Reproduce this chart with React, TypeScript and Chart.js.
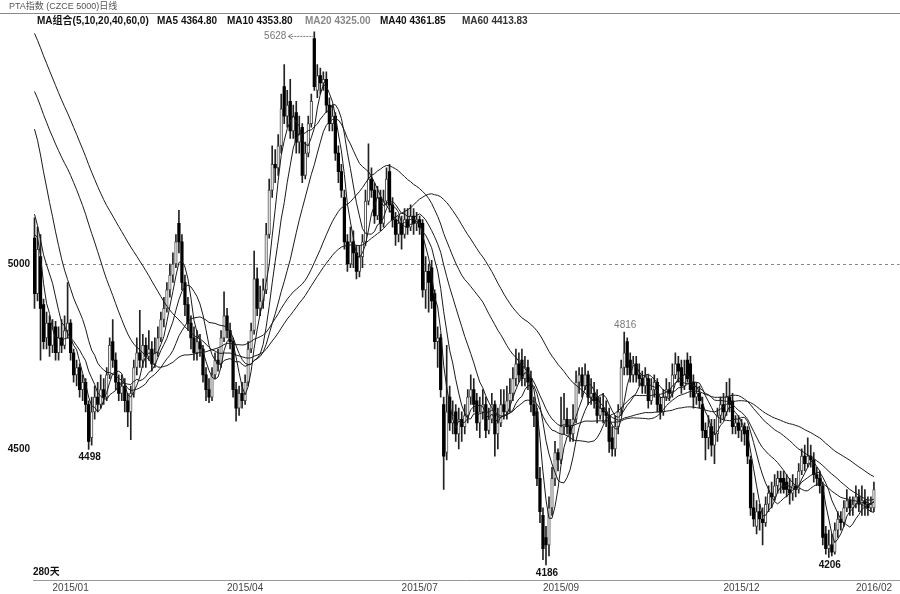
import React, { useEffect, useRef } from "react";
import { Chart, registerables } from "chart.js";
Chart.register(...registerables);

const FONT = '"Liberation Sans", "Noto Sans CJK SC", sans-serif';

// closes of the 59 sessions before the visible window (read back from the MA start levels)
const priorCloses = [
  6150, 6110, 6090, 6040, 6010, 6000, 5980, 5980, 5930, 5920, 5900, 5880, 5890, 5870, 5860, 5850, 5840, 5830, 5820, 5810,
  5780, 5740, 5700, 5660, 5620, 5580, 5540, 5510, 5490, 5470, 5450, 5460, 5480, 5500, 5520, 5540, 5560, 5580, 5600, 5600,
  5640, 5680, 5700, 5660, 5620, 5600, 5580, 5540, 5500, 5430,
  5350, 5260, 5200, 5110, 5030,
  5080, 5130, 5160, 5110,
];

const opens = [
  5070, 4920, 5020, 4890, 4800, 4840, 4780, 4830, 4760, 4800,
  4780, 4820, 4840, 4760, 4700, 4720, 4660, 4680, 4620, 4530,
  4600, 4640, 4620, 4660, 4640, 4700, 4790, 4740, 4680, 4650,
  4670, 4630, 4600, 4650, 4720, 4760, 4740, 4780, 4750, 4770,
  4730, 4760, 4800, 4850, 4880, 4930, 4970, 5000, 5110, 5060,
  4950, 4890, 4840, 4800, 4760, 4790, 4770, 4700, 4660, 4640,
  4700, 4740, 4730, 4800, 4860, 4820, 4790, 4660, 4610, 4650,
  4630, 4680, 4770, 4820, 4960, 4880, 4900, 4930, 5080, 5200,
  5270, 5260, 5320, 5480, 5400, 5440, 5360, 5410, 5330, 5370,
  5240, 5300, 5380, 5610, 5470, 5510, 5490, 5500, 5430, 5380,
  5400, 5300, 5250, 5180, 5060, 5000, 5060, 5030, 4980, 5020,
  5060, 5170, 5230, 5200, 5130, 5180, 5110, 5170, 5250, 5160,
  5120, 5080, 5110, 5080, 5120, 5100, 5130, 5110, 5120, 5110,
  4930, 4980, 4990, 4920, 4790, 4800, 4620, 4490, 4640, 4570,
  4600, 4540, 4580, 4560, 4590, 4640, 4660, 4630, 4570, 4600,
  4620, 4550, 4580, 4620, 4540, 4570, 4620, 4600, 4630, 4650,
  4690, 4730, 4740, 4690, 4720, 4690, 4620, 4600, 4420, 4320,
  4260, 4240, 4340, 4420, 4490, 4470, 4560, 4580, 4560, 4540,
  4580, 4680, 4700, 4670, 4700, 4640, 4650, 4640, 4590, 4610,
  4600, 4590, 4530, 4500, 4560, 4610, 4720, 4790, 4740, 4700,
  4730, 4700, 4690, 4670, 4690, 4630, 4660, 4680, 4620, 4600,
  4640, 4660, 4650, 4700, 4730, 4720, 4670, 4740, 4730, 4680,
  4640, 4650, 4620, 4550, 4530, 4560, 4510, 4540, 4590, 4620,
  4600, 4640, 4630, 4560, 4570, 4550, 4560, 4550, 4470, 4340,
  4290, 4330, 4310, 4300, 4350, 4380, 4370, 4400, 4420, 4420,
  4410, 4390, 4380, 4400, 4390, 4440, 4480, 4460, 4480, 4470,
  4430, 4420, 4400, 4270, 4230, 4240, 4220, 4280, 4310, 4300,
  4340, 4360, 4340, 4350, 4370, 4350, 4360, 4350, 4340, 4340,
];

const closes = [
  4920, 5040, 4880, 4790, 4840, 4780, 4830, 4760, 4800, 4780,
  4820, 4840, 4760, 4700, 4720, 4660, 4680, 4620, 4520, 4600,
  4640, 4620, 4660, 4640, 4700, 4780, 4740, 4680, 4650, 4670,
  4630, 4600, 4650, 4720, 4760, 4740, 4780, 4750, 4770, 4730,
  4760, 4800, 4850, 4880, 4930, 4970, 5000, 5060, 5060, 4950,
  4890, 4840, 4800, 4760, 4790, 4770, 4700, 4660, 4640, 4700,
  4740, 4730, 4800, 4860, 4820, 4790, 4660, 4610, 4650, 4630,
  4680, 4770, 4820, 4960, 4880, 4900, 4930, 5080, 5200, 5270,
  5260, 5320, 5420, 5400, 5430, 5360, 5400, 5330, 5350, 5240,
  5300, 5380, 5440, 5480, 5510, 5490, 5500, 5430, 5380, 5400,
  5300, 5250, 5200, 5060, 5000, 5060, 5030, 4980, 5020, 5060,
  5170, 5230, 5200, 5130, 5180, 5110, 5170, 5230, 5160, 5120,
  5080, 5110, 5080, 5120, 5100, 5130, 5110, 5120, 5100, 4930,
  4980, 4950, 4900, 4790, 4800, 4660, 4480, 4600, 4570, 4590,
  4540, 4580, 4560, 4590, 4640, 4660, 4620, 4570, 4600, 4620,
  4550, 4580, 4620, 4540, 4570, 4620, 4600, 4630, 4650, 4690,
  4730, 4700, 4690, 4720, 4680, 4620, 4590, 4420, 4330, 4230,
  4240, 4340, 4420, 4490, 4470, 4560, 4580, 4560, 4540, 4580,
  4680, 4700, 4670, 4700, 4640, 4650, 4630, 4590, 4610, 4600,
  4590, 4520, 4500, 4560, 4600, 4720, 4760, 4720, 4700, 4730,
  4700, 4690, 4670, 4700, 4630, 4660, 4680, 4620, 4600, 4640,
  4660, 4650, 4700, 4730, 4710, 4670, 4700, 4690, 4660, 4640,
  4650, 4630, 4550, 4530, 4560, 4510, 4540, 4590, 4620, 4600,
  4640, 4620, 4560, 4570, 4550, 4560, 4540, 4480, 4340, 4310,
  4330, 4310, 4300, 4350, 4380, 4370, 4400, 4420, 4410, 4390,
  4390, 4380, 4400, 4390, 4440, 4480, 4460, 4480, 4470, 4430,
  4420, 4400, 4260, 4230, 4240, 4220, 4280, 4310, 4300, 4340,
  4360, 4340, 4350, 4370, 4350, 4360, 4350, 4340, 4350, 4390,
];

const highs = [
  5125, 5100, 5080, 4905, 4870, 4860, 4850, 4845, 4830, 4850,
  4860, 4950, 4850, 4770, 4740, 4730, 4700, 4690, 4630, 4640,
  4670, 4680, 4700, 4690, 4720, 4800, 4850, 4760, 4700, 4700,
  4690, 4650, 4670, 4740, 4800, 4875, 4810, 4800, 4820, 4790,
  4800, 4830, 4870, 4910, 4950, 5000, 5030, 5080, 5145, 5080,
  4970, 4910, 4860, 4830, 4820, 4810, 4780, 4720, 4690, 4720,
  4760, 4770, 4820, 4925, 4880, 4840, 4800, 4680, 4670, 4680,
  4700, 4790, 4840, 5035, 4990, 4940, 4960, 5110, 5230, 5320,
  5310, 5350, 5460, 5540, 5470, 5500, 5430, 5440, 5400, 5380,
  5330, 5400, 5460, 5628, 5540, 5530, 5520, 5520, 5450, 5430,
  5410, 5320, 5270, 5200, 5080, 5100, 5090, 5050, 5050, 5080,
  5200, 5325, 5260, 5220, 5210, 5200, 5200, 5260, 5270, 5180,
  5140, 5130, 5130, 5150, 5150, 5160, 5150, 5140, 5130, 5120,
  5020, 5000, 5010, 4930, 4830, 4810, 4640, 4780, 4670, 4630,
  4620, 4610, 4600, 4620, 4660, 4700, 4690, 4650, 4640, 4660,
  4640, 4610, 4650, 4630, 4610, 4660, 4660, 4670, 4690, 4720,
  4770, 4760, 4770, 4750, 4740, 4710, 4640, 4610, 4450, 4340,
  4290, 4370, 4450, 4520, 4500, 4640, 4650, 4610, 4580, 4620,
  4710, 4720, 4720, 4730, 4710, 4690, 4680, 4660, 4640, 4650,
  4630, 4610, 4560, 4590, 4620, 4740, 4816, 4800, 4760, 4750,
  4750, 4730, 4710, 4720, 4700, 4690, 4700, 4690, 4640, 4660,
  4690, 4680, 4730, 4760, 4750, 4740, 4740, 4760, 4750, 4700,
  4680, 4670, 4640, 4570, 4590, 4580, 4580, 4610, 4640, 4650,
  4680, 4690, 4650, 4590, 4590, 4580, 4570, 4560, 4480, 4380,
  4360, 4350, 4340, 4370, 4400, 4410, 4430, 4440, 4440, 4440,
  4430, 4420, 4430, 4420, 4460, 4500, 4510, 4530, 4510, 4490,
  4450, 4440, 4410, 4290, 4280, 4270, 4300, 4330, 4330, 4360,
  4390, 4370, 4370, 4400, 4390, 4400, 4390, 4370, 4370, 4410,
];

const lows = [
  4880, 4900, 4740, 4770, 4770, 4750, 4760, 4740, 4740, 4760,
  4770, 4800, 4740, 4680, 4670, 4640, 4630, 4600, 4498, 4510,
  4580, 4600, 4610, 4620, 4630, 4690, 4720, 4660, 4630, 4630,
  4600, 4560, 4525, 4640, 4700, 4720, 4720, 4720, 4740, 4710,
  4720, 4750, 4790, 4830, 4870, 4910, 4950, 4990, 5030, 4930,
  4860, 4820, 4770, 4740, 4740, 4750, 4680, 4630, 4625, 4630,
  4690, 4710, 4720, 4790, 4800, 4770, 4640, 4575, 4590, 4610,
  4620, 4670, 4760, 4810, 4860, 4860, 4880, 4920, 5070, 5180,
  5220, 5240, 5300, 5380, 5370, 5340, 5340, 5300, 5300, 5220,
  5230, 5290, 5370, 5470, 5450, 5460, 5470, 5410, 5360, 5360,
  5280, 5220, 5180, 5040, 4980, 4990, 4990, 4960, 4965, 4990,
  5050, 5160, 5180, 5110, 5120, 5090, 5100, 5160, 5140, 5100,
  5050, 5060, 5040, 5070, 5080, 5090, 5080, 5090, 5080, 4910,
  4880, 4870, 4880, 4770, 4720, 4640, 4390, 4470, 4550, 4540,
  4520, 4500, 4520, 4540, 4570, 4620, 4600, 4550, 4530, 4580,
  4530, 4540, 4570, 4480, 4500, 4560, 4580, 4580, 4600, 4630,
  4670, 4680, 4670, 4670, 4660, 4600, 4560, 4400, 4300, 4200,
  4186, 4210, 4320, 4400, 4440, 4460, 4540, 4540, 4520, 4520,
  4570, 4650, 4640, 4660, 4620, 4620, 4610, 4570, 4580, 4570,
  4560, 4490, 4480, 4480, 4540, 4590, 4700, 4700, 4680, 4680,
  4680, 4670, 4650, 4650, 4610, 4620, 4640, 4600, 4580, 4590,
  4630, 4630, 4640, 4690, 4680, 4650, 4660, 4680, 4640, 4610,
  4620, 4610, 4530, 4470, 4500, 4480, 4460, 4520, 4570, 4580,
  4590, 4600, 4540, 4540, 4530, 4520, 4510, 4460, 4320, 4290,
  4270, 4280, 4240, 4290, 4330, 4340, 4360, 4380, 4380, 4380,
  4370, 4350, 4360, 4370, 4380, 4430, 4440, 4450, 4450, 4410,
  4400, 4380, 4240, 4215, 4206, 4210, 4215, 4260, 4280, 4290,
  4330, 4320, 4320, 4340, 4330, 4320, 4320, 4320, 4330, 4330,
];

const SLOTS = 288;
const monthTickIndex = [6, 64, 122, 169, 229, 273];
const monthLabels = ["2015/01", "2015/04", "2015/07", "2015/09", "2015/12", "2016/02"];
const yTicks = [4500, 5000];
const maPeriods = [5, 10, 20, 40, 60];
const titleText = "PTA指数 (CZCE 5000)日线";
const legendTexts = ["MA组合(5,10,20,40,60,0)", "MA5 4364.80", "MA10 4353.80", "MA20 4325.00", "MA40 4361.85", "MA60 4413.83"];
const highMarks = [93, 196];
const lowMarks = [18, 170, 264];
const daysText = "280天";

function movingAverage(n: number): (number | null)[] {
  const all = priorCloses.concat(closes);
  const off = priorCloses.length;
  return closes.map((_, i) => {
    const end = off + i;
    const start = end - n + 1;
    if (start < 0) return null;
    let s = 0;
    for (let k = start; k <= end; k++) s += all[k];
    return s / n;
  });
}

const textPlugin = {
  id: "texts",
  afterDraw(chart: any) {
    const { ctx } = chart;
    const x = chart.scales.x;
    const y = chart.scales.y;
    ctx.save();
    ctx.strokeStyle = "#8a8a8a";
    ctx.lineWidth = 1;
    ctx.beginPath();
    ctx.moveTo(0, 13.5);
    ctx.lineTo(900, 13.5);
    ctx.stroke();

    ctx.textBaseline = "middle";
    ctx.textAlign = "left";
    ctx.fillStyle = "#555";
    ctx.font = `9px ${FONT}`;
    ctx.fillText(titleText, 9, 7);

    const legX = [37, 157, 227, 305, 380, 462];
    const legColor = ["#111", "#111", "#111", "#888", "#111", "#333"];
    ctx.font = `bold 10px ${FONT}`;
    legendTexts.forEach((t, k) => {
      ctx.fillStyle = legColor[k];
      ctx.fillText(t, legX[k], 21);
    });

    // high marks
    ctx.font = `10px ${FONT}`;
    ctx.fillStyle = "#777";
    highMarks.forEach((i, k) => {
      const px = x.getPixelForValue(i);
      const py = y.getPixelForValue(highs[i]);
      if (k === 0) {
        ctx.textAlign = "right";
        ctx.fillText(String(highs[i]), px - 28, py + 4);
        ctx.strokeStyle = "#777";
        ctx.setLineDash([2, 1]);
        ctx.beginPath();
        ctx.moveTo(px - 26, py + 4.5);
        ctx.lineTo(px - 1, py + 4.5);
        ctx.stroke();
        ctx.setLineDash([]);
        ctx.beginPath();
        ctx.moveTo(px - 22, py + 2);
        ctx.lineTo(px - 26, py + 4.5);
        ctx.lineTo(px - 22, py + 7);
        ctx.stroke();
      } else {
        ctx.textAlign = "center";
        ctx.fillText(String(highs[i]), px + 1, py - 7);
      }
    });

    ctx.font = `bold 10px ${FONT}`;
    ctx.fillStyle = "#111";
    ctx.textAlign = "center";
    lowMarks.forEach((i) => {
      const px = x.getPixelForValue(i);
      const py = y.getPixelForValue(lows[i]);
      ctx.fillText(String(lows[i]), px + 1, py + 8);
    });

    ctx.textAlign = "left";
    ctx.fillText(daysText, 33, 572);
    ctx.restore();
  },
};

export default function App() {
  const ref = useRef<HTMLCanvasElement | null>(null);
  useEffect(() => {
    if (!ref.current) return;
    const labels = Array.from({ length: SLOTS }, (_, i) => String(i));
    const up = closes.map((c, i) => c >= opens[i]);
    const maDatasets = maPeriods.map((n) => ({
      type: "line" as const,
      label: "MA" + n,
      data: movingAverage(n),
      borderColor: "#1a1a1a",
      borderWidth: 1,
      pointRadius: 0,
      tension: 0,
      fill: false,
      order: 0,
    }));
    const chart = new Chart(ref.current, {
      type: "bar",
      data: {
        labels,
        datasets: [
          {
            type: "bar",
            label: "wick",
            data: lows.map((l, i) => [l, highs[i]]),
            backgroundColor: "#222",
            barThickness: 1,
            grouped: false,
            order: 2,
          } as any,
          {
            type: "bar",
            label: "body",
            data: opens.map((o, i) => [o, closes[i]]),
            backgroundColor: up.map((u) => (u ? "#ffffff" : "#000000")),
            borderColor: up.map((u) => (u ? "#4a4a4a" : "#000000")),
            borderWidth: up.map((u) => (u ? 1 : 0)),
            borderSkipped: false,
            barThickness: 2.6,
            minBarLength: 1,
            grouped: false,
            order: 1,
          } as any,
          ...maDatasets,
        ],
      },
      options: {
        responsive: false,
        animation: false,
        devicePixelRatio: 1,
        layout: { padding: { top: 19, left: 0, right: 0, bottom: 0 } },
        plugins: { legend: { display: false }, tooltip: { enabled: false } },
        scales: {
          x: {
            type: "category",
            offset: true,
            grid: { display: false, drawTicks: false },
            border: { display: true, color: "#999", width: 1 },
            ticks: {
              autoSkip: false,
              maxRotation: 0,
              minRotation: 0,
              align: "start",
              padding: 2,
              color: "#444",
              font: { family: FONT, size: 10 },
              callback: (_v: any, index: number) => {
                const k = monthTickIndex.indexOf(index);
                return k >= 0 ? monthLabels[k] : "";
              },
            },
            afterFit: (s: any) => {
              s.height = 14;
            },
          },
          y: {
            type: "linear",
            min: 4145,
            max: 5663,
            grid: {
              drawTicks: false,
              color: (c: any) => (c.tick && c.tick.value === 5000 ? "#888" : "rgba(0,0,0,0)"),
            },
            border: { display: false, dash: [3, 3] },
            afterBuildTicks: (s: any) => {
              s.ticks = yTicks.map((v) => ({ value: v }));
            },
            ticks: {
              padding: 3,
              color: "#111",
              font: { family: FONT, size: 10, weight: "bold" },
              callback: (v: any) => String(v),
            },
            afterFit: (s: any) => {
              s.width = 33;
            },
          },
        },
      },
      plugins: [textPlugin],
    });
    return () => chart.destroy();
  }, []);
  return (
    <div style={{ position: "fixed", left: 0, top: 0, width: 900, height: 594, background: "#fff" }}>
      <canvas ref={ref} width={900} height={594} />
    </div>
  );
}
